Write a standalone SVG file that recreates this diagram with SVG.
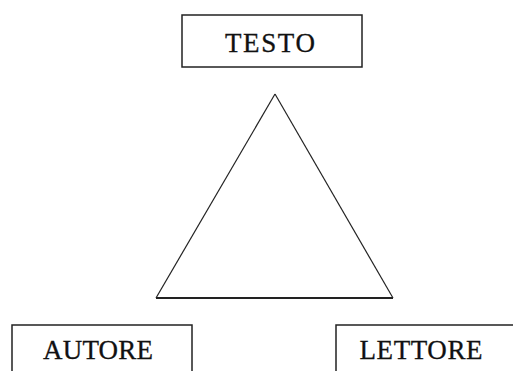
<svg xmlns="http://www.w3.org/2000/svg" width="513" height="371" viewBox="0 0 513 371">
<style>
.box{fill:#fff;stroke:#222;stroke-width:1.5}
.lbl{font-family:"Liberation Serif","Times New Roman",serif;font-size:27px;fill:#111;stroke:#111;stroke-width:0.3;text-anchor:middle}
.edge{fill:none;stroke:#222;stroke-width:1.2}
</style>
<rect width="513" height="371" fill="#fff"/>
<g id="connectors">
<line class="edge" x1="275" y1="94" x2="156" y2="298"/>
<line class="edge" x1="275" y1="94" x2="393" y2="298"/>
<line class="edge" x1="156" y1="298" x2="393" y2="298" style="stroke-width:2"/>
</g>
<g id="testo">
<rect class="box" x="182" y="15" width="180" height="52"/>
<text class="lbl" x="270" y="52" textLength="90" lengthAdjust="spacing">TESTO</text>
</g>
<g id="autore">
<rect class="box" x="12" y="325" width="180" height="60"/>
<text class="lbl" x="98" y="359" textLength="110" lengthAdjust="spacing">AUTORE</text>
</g>
<g id="lettore">
<rect class="box" x="336" y="325" width="190" height="60"/>
<text class="lbl" x="421" y="359" textLength="123" lengthAdjust="spacing">LETTORE</text>
</g>
</svg>
